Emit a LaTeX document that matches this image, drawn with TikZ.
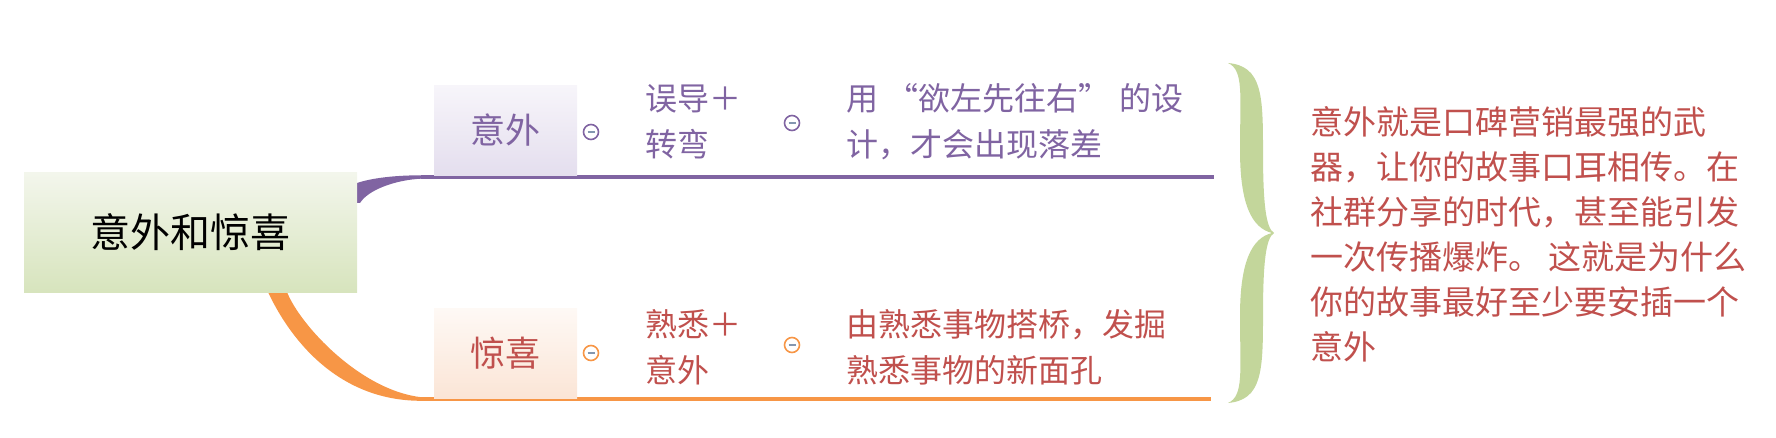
\documentclass[tikz,border=0pt]{standalone}
\usepackage{fontspec}
\setmainfont{Noto Sans CJK SC}
\usepackage{xcolor}
\usepackage{tikz}

\definecolor{purp}{HTML}{8064A2}
\definecolor{org}{HTML}{F79646}
\definecolor{redtxt}{HTML}{C0504D}
\definecolor{bracegreen}{HTML}{C3D69B}
\definecolor{minuscol}{HTML}{8497B0}
\definecolor{roottop}{HTML}{F3F6EC}
\definecolor{rootbot}{HTML}{D7E4BD}
\definecolor{purtop}{HTML}{F7F5FA}
\definecolor{purbot}{HTML}{E4DEEE}
\definecolor{orgtop}{HTML}{FEF9F5}
\definecolor{orgbot}{HTML}{FBE5D6}

\begin{document}
\begin{tikzpicture}[x=1pt,y=-1pt,
    rootbox/.style={rectangle, inner sep=0pt, minimum width=333pt, minimum height=119pt,
        top color=roottop, bottom color=rootbot, font=\fontsize{40}{48}\selectfont},
    branchbox/.style={rectangle, inner sep=0pt, minimum width=143pt, minimum height=90pt,
        font=\fontsize{35}{40}\selectfont},
    mbtn/.style={circle, draw=#1, line width=1.6pt, fill=white, minimum size=15pt, inner sep=0pt,
        path picture={\draw[minuscol, line width=1.4pt] (path picture bounding box.center) ++(-3.5,0) -- ++(7,0);}},
    leaf/.style={anchor=west, align=left, inner sep=0pt, font=\fontsize{32}{46}\selectfont},
    note/.style={anchor=west, align=left, inner sep=0pt, text=redtxt, font=\fontsize{33}{45}\selectfont},
    ]
        \useasboundingbox (0,0) rectangle (1776,438);

        % Branch lines
        \coordinate (pa) at (421,177);
        \coordinate (pb) at (1214,177);
        \coordinate (oa) at (421,399);
        \coordinate (ob) at (1211,399);
        \fill[purp] (357,183) .. controls (372,178) and (395,175.3) .. (421,175.3)
            -- (421,178.7) .. controls (395,180) and (368,190) .. (360,203) -- (357,203) -- cycle;
        \fill[org] (268,292) .. controls (288,335) and (335,400.8) .. (421,400.8)
            -- (421,397.2) .. controls (360,390) and (300,325) .. (287,292) -- cycle;
        \draw[purp, line width=3.5pt] (pa) -- (pb);
        \draw[org, line width=3.5pt] (oa) -- (ob);

        % Root
        \node[rootbox] (root) at (190.5,232.5) {意外和惊喜};

        % Level 1
        \node[branchbox, top color=purtop, bottom color=purbot, text=purp] (yiwai) at (505.5,130.5) {意外};
        \node[branchbox, top color=orgtop, bottom color=orgbot, text=redtxt] (jingxi) at (505.5,353) {惊喜};

        % Collapse buttons
        \node[mbtn=purp] (m1) at (591,132) {};
        \node[mbtn=purp] (m2) at (792,123) {};
        \node[mbtn=org] (m3) at (591,353) {};
        \node[mbtn=org] (m4) at (792,345) {};

        % Level 2
        \node[leaf, text=purp] (wudao) at (645,122) {误导＋\\转弯};
        \node[leaf, text=purp] (sheji) at (846,122) {用\hspace{0.27em}“欲左先往右”\hspace{0.27em}的设\\计，才会出现落差};
        \node[leaf, text=redtxt] (shuxi) at (645,347) {熟悉＋\\意外};
        \node[leaf, text=redtxt] (daqiao) at (846,347) {由熟悉事物搭桥，发掘\\熟悉事物的新面孔};

        % Brace and summary
        \fill[bracegreen] (1228,63) .. controls (1262,66) and (1263,95) .. (1263,150)
            .. controls (1263,205) and (1266,228) .. (1274,233)
            .. controls (1266,238) and (1263,261) .. (1263,316)
            .. controls (1263,371) and (1262,400) .. (1228,403)
            .. controls (1244,396) and (1240,371) .. (1240,316)
            .. controls (1240,261) and (1252,238) .. (1272,233)
            .. controls (1252,228) and (1240,205) .. (1240,150)
            .. controls (1240,95) and (1244,70) .. (1228,63) -- cycle;
        \node[note] (summary) at (1310,234.5) {意外就是口碑营销最强的武\\器，让你的故事口耳相传。在\\社群分享的时代，甚至能引发\\一次传播爆炸。 这就是为什么\\你的故事最好至少要安插一个\\意外};
    \end{tikzpicture}
\end{document}
